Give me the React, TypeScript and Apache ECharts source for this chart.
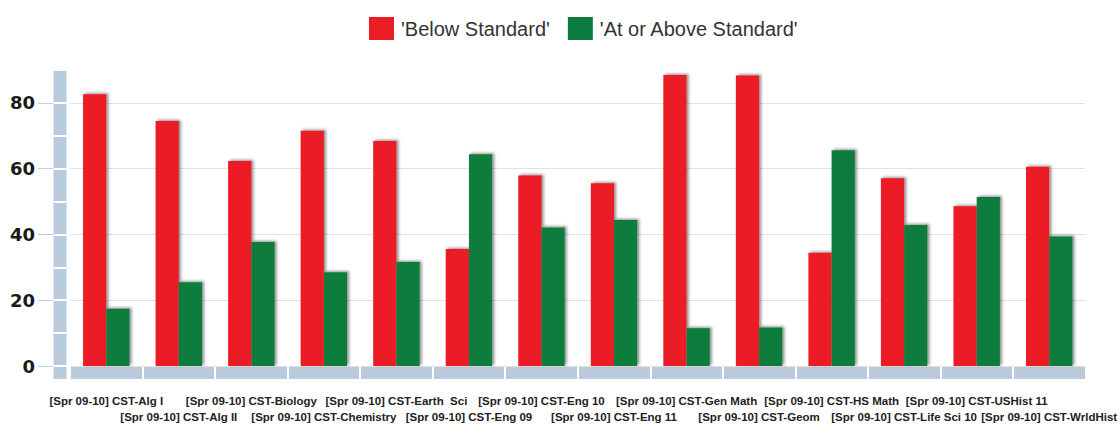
import React, { useEffect, useRef } from 'react';
import * as echarts from 'echarts';

const categories = [
  '[Spr 09-10] CST-Alg I',
  '[Spr 09-10] CST-Alg II',
  '[Spr 09-10] CST-Biology',
  '[Spr 09-10] CST-Chemistry',
  '[Spr 09-10] CST-Earth  Sci',
  '[Spr 09-10] CST-Eng 09',
  '[Spr 09-10] CST-Eng 10',
  '[Spr 09-10] CST-Eng 11',
  '[Spr 09-10] CST-Gen Math',
  '[Spr 09-10] CST-Geom',
  '[Spr 09-10] CST-HS Math',
  '[Spr 09-10] CST-Life Sci 10',
  '[Spr 09-10] CST-USHist 11',
  '[Spr 09-10] CST-WrldHist',
];
const belowStandard = [82.6, 74.5, 62.3, 71.5, 68.4, 35.6, 57.9, 55.6, 88.5, 88.3, 34.4, 57.1, 48.6, 60.6];
const atOrAboveStandard = [17.4, 25.5, 37.7, 28.5, 31.6, 64.4, 42.1, 44.4, 11.5, 11.7, 65.6, 42.9, 51.4, 39.4];
const yTickLabels = [0, 20, 40, 60, 80];
const seriesNames = ["'Below Standard'", "'At or Above Standard'"];

export default function App() {
  const ref = useRef<HTMLDivElement>(null);
  useEffect(() => {
    const chart = echarts.init(ref.current!, null, { renderer: 'svg' });
    const band = '#b9cadb';
    const H = 427;
    const gridLeft = 70;
    const gridTop = 70;
    const gridBottom = 61;
    const gridRight = 30;
    const yBandLeft = 53.5;
    const yBandWidth = 13;
    const xBandHeight = 12;
    const barShadow = {
      shadowColor: 'rgba(0,0,0,0.45)',
      shadowBlur: 3,
      shadowOffsetX: 2,
      shadowOffsetY: -1,
    };
    chart.setOption({
      animation: false,
      legend: {
        top: 12,
        left: 364,
        itemWidth: 25,
        itemHeight: 23,
        itemGap: 18,
        icon: 'rect',
        data: seriesNames,
        itemStyle: { shadowBlur: 0, shadowColor: 'rgba(0,0,0,0)', shadowOffsetX: 0, shadowOffsetY: 0 },
        textStyle: {
          fontSize: 20,
          color: '#333',
          fontFamily: '"Liberation Sans", Arial, sans-serif',
          padding: [0, 0, 0, 2],
        },
      },
      grid: [
        { left: gridLeft, right: gridRight, top: gridTop, bottom: gridBottom },
        {
          left: yBandLeft,
          width: yBandWidth,
          top: gridTop,
          bottom: gridBottom,
          show: true,
          backgroundColor: band,
          borderWidth: 0,
        },
      ],
      graphic: [
        {
          type: 'rect',
          shape: {
            x: yBandLeft,
            y: H - gridBottom + 1,
            width: yBandWidth,
            height: xBandHeight,
          },
          style: { fill: band },
          silent: true,
        },
      ],
      xAxis: [
        {
          type: 'category',
          data: categories,
          position: 'bottom',
          offset: 7,
          axisLine: { show: true, onZero: false, lineStyle: { color: band, width: xBandHeight, cap: 'butt' } },
          axisTick: { show: false },
          axisLabel: {
            interval: 0,
            margin: 20,
            fontSize: 11.5,
            fontWeight: 'bold',
            color: '#222',
            lineHeight: 16,
            fontFamily: '"Liberation Sans", Arial, sans-serif',
            formatter: (v: string, i: number) => (i % 2 === 1 ? '\n' + v : v),
          },
          splitLine: { show: false },
        },
        {
          type: 'category',
          data: categories,
          position: 'bottom',
          offset: 13,
          z: 1,
          axisLine: { show: false, onZero: false },
          axisTick: { show: true, interval: 0, inside: true, length: 12, lineStyle: { color: '#ffffff', width: 2 } },
          axisLabel: { show: false },
          splitLine: { show: false },
        },
        {
          gridIndex: 1,
          type: 'value',
          min: 0,
          max: 1,
          show: false,
          splitLine: { show: false },
        },
      ],
      yAxis: [
        {
          type: 'value',
          min: 0,
          max: 90,
          interval: 10,
          position: 'left',
          axisLine: { show: false, onZero: false },
          axisTick: { show: false },
          axisLabel: { show: false },
          splitLine: { show: true, lineStyle: { color: ['#e2e2e2', 'rgba(0,0,0,0)'], width: 1 } },
        },
        {
          type: 'value',
          min: 0,
          max: 90,
          interval: 20,
          position: 'left',
          offset: 17,
          axisLine: { show: false, onZero: false },
          axisTick: { show: true, length: 15, customValues: yTickLabels, lineStyle: { color: '#c4ccd4', width: 1 } },
          axisLabel: {
            customValues: yTickLabels,
            margin: 18,
            fontSize: 18,
            fontWeight: 'bold',
            color: '#1a1a1a',
            fontFamily: '"DejaVu Sans", sans-serif',
          },
          splitLine: { show: false },
        },
        {
          gridIndex: 1,
          type: 'value',
          min: 0,
          max: 90,
          interval: 10,
          axisLine: { show: false },
          axisTick: { show: false },
          axisLabel: { show: false },
          splitLine: { show: true, lineStyle: { color: '#ffffff', width: 2 } },
        },
      ],
      series: [
        {
          name: seriesNames[0],
          type: 'bar',
          data: belowStandard,
          barGap: '0%',
          barCategoryGap: '36%',
          itemStyle: { color: '#ec1d25', ...barShadow },
        },
        {
          name: seriesNames[1],
          type: 'bar',
          data: atOrAboveStandard,
          barGap: '0%',
          barCategoryGap: '36%',
          itemStyle: { color: '#0b7c3d', ...barShadow },
        },
      ],
    });
    return () => chart.dispose();
  }, []);
  return (
    <div
      ref={ref}
      style={{ position: 'fixed', left: 0, top: 0, width: 1120, height: 427, background: '#ffffff' }}
    />
  );
}
